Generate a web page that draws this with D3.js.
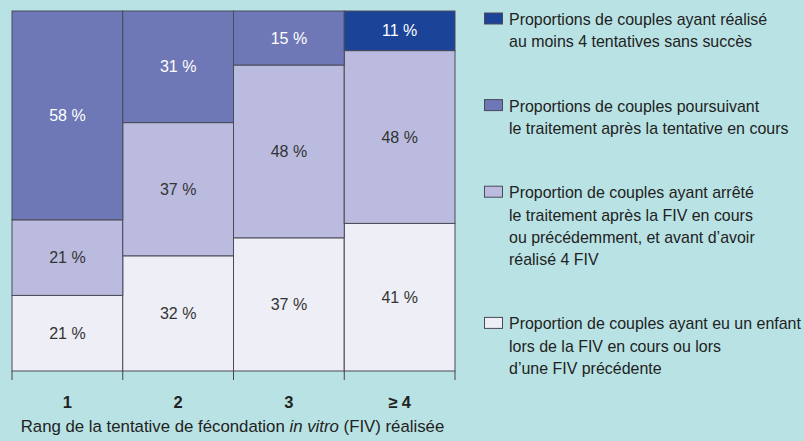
<!doctype html>
<html>
  <head>
    <meta charset="utf-8">
    <title>FIV</title>
    <script src="https://cdn.jsdelivr.net/npm/d3@7"></script>
    <style>
      html, body { margin: 0; padding: 0; background: #b9e2e4; }
      svg { display: block; }
    </style>
  </head>
  <body>
    <script>
      // rang de la tentative
      const categories = ['1', '2', '3', '≥ 4'];

      // séries (en %), du bas vers le haut
      const enfant = [21, 32, 37, 41];
      const arrete = [21, 37, 48, 48];
      const poursuivant = [58, 31, 15, 0];
      const echec = [0, 0, 0, 11];

      const seriesKeys = ['enfant', 'arrete', 'poursuivant', 'echec'];
      const seriesColors = ['#eeeef6', '#babbdf', '#6f78b6', '#1b4398'];
      const labelColors = ['#333', '#333', '#fff', '#fff'];

      // légende, de haut en bas
      const legendKeys = ['echec', 'poursuivant', 'arrete', 'enfant'];
      const legendLabels = [
        ['Proportions de couples ayant réalisé', 'au moins 4 tentatives sans succès'],
        ['Proportions de couples poursuivant', 'le traitement après la tentative en cours'],
        ['Proportion de couples ayant arrêté', 'le traitement après la FIV en cours',
         'ou précédemment, et avant d’avoir', 'réalisé 4 FIV'],
        ['Proportion de couples ayant eu un enfant', 'lors de la FIV en cours ou lors',
         'd’une FIV précédente']
      ];

      const width = 804;
      const height = 441;
      const margin = { top: 11, right: 349, bottom: 70, left: 12 };

      const table = categories.map((c, i) => ({
        rang: c,
        enfant: enfant[i],
        arrete: arrete[i],
        poursuivant: poursuivant[i],
        echec: echec[i]
      }));

      const stacked = d3.stack().keys(seriesKeys)(table);

      const svg = d3.select('body').append('svg')
          .attr('width', width)
          .attr('height', height);

      const x = d3.scaleBand()
          .domain(categories)
          .range([margin.left, width - margin.right])
          .padding(0);

      const y = d3.scaleLinear()
          .domain([0, 100])
          .range([height - margin.bottom, margin.top]);

      const color = d3.scaleOrdinal().domain(seriesKeys).range(seriesColors);
      const textColor = d3.scaleOrdinal().domain(seriesKeys).range(labelColors);

      // barres empilées
      const layers = svg.append('g')
        .selectAll('g')
        .data(stacked)
        .join('g')
          .attr('fill', d => color(d.key));

      layers.selectAll('rect')
        .data(d => d.filter(s => s[1] - s[0] > 0))
        .join('rect')
          .attr('x', d => x(d.data.rang))
          .attr('y', d => y(d[1]))
          .attr('width', x.bandwidth())
          .attr('height', d => y(d[0]) - y(d[1]))
          .attr('stroke', '#4a4a58')
          .attr('stroke-width', 1);

      // valeurs
      const labels = svg.append('g')
          .attr('font-family', '"Liberation Sans", Arial, sans-serif')
          .attr('font-size', '16px')
          .attr('text-anchor', 'middle');

      stacked.forEach(layer => {
        labels.append('g')
            .attr('fill', textColor(layer.key))
          .selectAll('text')
          .data(layer.filter(s => s[1] - s[0] > 0))
          .join('text')
            .attr('x', d => x(d.data.rang) + x.bandwidth() / 2)
            .attr('y', d => (y(d[0]) + y(d[1])) / 2)
            .attr('dy', '0.35em')
            .text(d => `${d[1] - d[0]} %`);
      });

      // axe x : traits entre les colonnes
      const ticks = svg.append('g').attr('stroke', '#444');
      const edges = categories.map(c => x(c)).concat([x.range()[1]]);
      ticks.selectAll('line')
        .data(edges)
        .join('line')
          .attr('x1', d => d)
          .attr('x2', d => d)
          .attr('y1', y(0))
          .attr('y2', y(0) + 9);

      svg.append('g')
          .attr('font-family', '"Liberation Sans", Arial, sans-serif')
          .attr('font-size', '16.5px')
          .attr('font-weight', 'bold')
          .attr('fill', '#222')
          .attr('text-anchor', 'middle')
        .selectAll('text')
        .data(categories)
        .join('text')
          .attr('x', d => x(d) + x.bandwidth() / 2)
          .attr('y', 408)
          .text(d => d);

      const title = svg.append('text')
          .attr('x', (x.range()[0] + x.range()[1]) / 2 - 1)
          .attr('y', 432)
          .attr('font-family', '"Liberation Sans", Arial, sans-serif')
          .attr('font-size', '16.8px')
          .attr('fill', '#222')
          .attr('text-anchor', 'middle');
      title.append('tspan').text('Rang de la tentative de fécondation ');
      title.append('tspan').attr('font-style', 'italic').text('in vitro');
      title.append('tspan').text(' (FIV) réalisée');

      // légende (police étroite simulée par une compression horizontale)
      const lineH = 22.3;
      const gap = 42;
      const legendX = 509;
      const legendMaxW = 292;
      const legend = svg.append('g')
          .attr('font-family', '"Liberation Sans", Arial, sans-serif')
          .attr('font-size', '17px')
          .attr('fill', '#222');

      let by = 25;
      const legendTexts = [];
      legendKeys.forEach((k, i) => {
        const g = legend.append('g');
        g.append('rect')
            .attr('x', 484.5)
            .attr('y', by - 12)
            .attr('width', 18)
            .attr('height', 11)
            .attr('fill', color(k))
            .attr('stroke', '#4a4a58');
        const t = g.selectAll('text')
          .data(legendLabels[i])
          .join('text')
            .attr('x', 0)
            .attr('data-y', (d, j) => by + j * lineH)
            .text(d => d);
        legendTexts.push(t);
        by += legendLabels[i].length * lineH + gap;
      });

      let longest = 0;
      legendTexts.forEach(t => t.each(function () {
        longest = Math.max(longest, this.getComputedTextLength());
      }));
      const sx = longest > 0 ? legendMaxW / longest : 1;
      legendTexts.forEach(t => t.attr('transform', function () {
        return `translate(${legendX},${this.getAttribute('data-y')}) scale(${sx},1)`;
      }));
    </script>
  </body>
</html>
